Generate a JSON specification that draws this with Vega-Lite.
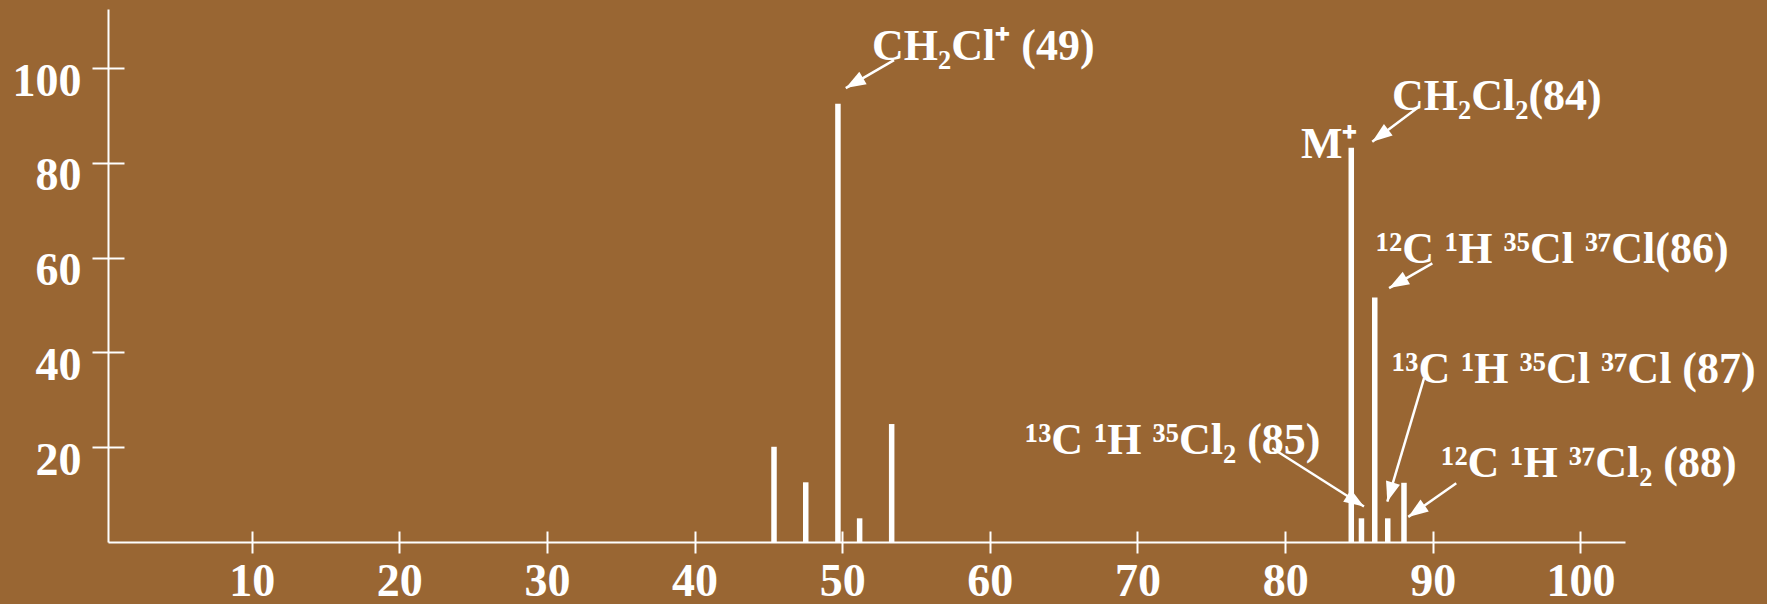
{
  "$schema": "https://vega.github.io/schema/vega-lite/v6.json",
  "width": 1517,
  "height": 533,
  "autosize": {"type": "none"},
  "padding": {"left": 108, "top": 9, "right": 142, "bottom": 62},
  "background": "#996633",
  "config": {
    "view": {"stroke": null},
    "axis": {
      "grid": false,
      "title": null,
      "domainColor": "white",
      "domainWidth": 2,
      "tickColor": "white",
      "tickWidth": 2,
      "labelColor": "white",
      "labelFont": "Liberation Serif",
      "labelFontWeight": "bold",
      "labelFontSize": 46,
      "labelFlush": false,
      "labelOverlap": false
    }
  },
  "datasets": {
    "peaks": [
      {"mz": 45.38, "intensity": 20.1},
      {"mz": 47.53, "intensity": 12.6},
      {"mz": 49.71, "intensity": 92.5},
      {"mz": 51.18, "intensity": 5.0},
      {"mz": 53.35, "intensity": 24.9},
      {"mz": 84.48, "intensity": 83.2},
      {"mz": 85.17, "intensity": 5.0},
      {"mz": 86.07, "intensity": 51.6},
      {"mz": 86.95, "intensity": 5.0},
      {"mz": 88.05, "intensity": 12.5}
    ],
    "arrows": [
      {"from_mz": 53.51, "from_int": 101.7, "to_mz": 50.24, "to_int": 95.8, "heading": 239.6},
      {"from_mz": 88.95, "from_int": 91.6, "to_mz": 85.9, "to_int": 84.5, "heading": 233.4},
      {"from_mz": 89.97, "from_int": 58.8, "to_mz": 87.04, "to_int": 53.6, "heading": 240},
      {"from_mz": 89.41, "from_int": 34.6, "to_mz": 86.92, "to_int": 8.5, "heading": 196.6},
      {"from_mz": 91.59, "from_int": 12.4, "to_mz": 88.34, "to_int": 5.3, "heading": 235.2},
      {"from_mz": 79.13, "from_int": 19.8, "to_mz": 85.34, "to_int": 7.5, "heading": 122.5}
    ],
    "labels": [
      {"mz": 52.02, "intensity": 101.7, "label": "CH₂Cl⁺ (49)"},
      {"mz": 87.24, "intensity": 91.2, "label": "CH₂Cl₂(84)"},
      {"mz": 81.07, "intensity": 81.1, "label": "M⁺"},
      {"mz": 86.15, "intensity": 58.9, "label": "¹²C ¹H ³⁵Cl ³⁷Cl(86)"},
      {"mz": 87.24, "intensity": 33.6, "label": "¹³C ¹H ³⁵Cl ³⁷Cl (87)"},
      {"mz": 90.57, "intensity": 13.7, "label": "¹²C ¹H ³⁷Cl₂ (88)"},
      {"mz": 62.38, "intensity": 18.5, "label": "¹³C ¹H ³⁵Cl₂ (85)"}
    ]
  },
  "resolve": {"axis": {"x": "independent", "y": "independent"}},
  "layer": [
    {
      "data": {"name": "peaks"},
      "mark": {"type": "rule", "color": "white", "strokeWidth": 5.5, "strokeCap": "butt"},
      "encoding": {
        "x": {
          "field": "mz", "type": "quantitative",
          "scale": {"domain": [0.27, 103.02], "nice": false, "zero": false},
          "axis": {"orient": "bottom", "values": [10, 20, 30, 40, 50, 60, 70, 80, 90, 100], "tickSize": 11, "labelPadding": 6}
        },
        "y": {
          "field": "intensity", "type": "quantitative",
          "scale": {"domain": [0, 112.5], "nice": false},
          "axis": {"orient": "left", "values": [20, 40, 60, 80, 100], "tickSize": 16, "labelPadding": 11, "labelBaseline": "alphabetic", "labelOffset": 27}
        },
        "y2": {"datum": 0}
      }
    },
    {
      "data": {"name": "arrows"},
      "mark": {"type": "rule", "color": "white", "strokeWidth": 2.5},
      "encoding": {
        "x": {
          "field": "from_mz", "type": "quantitative",
          "axis": {"orient": "bottom", "values": [10, 20, 30, 40, 50, 60, 70, 80, 90, 100], "tickSize": -11, "labels": false, "domain": false}
        },
        "y": {
          "field": "from_int", "type": "quantitative",
          "axis": {"orient": "left", "values": [20, 40, 60, 80, 100], "tickSize": -16, "labels": false, "domain": false}
        },
        "x2": {"field": "to_mz"},
        "y2": {"field": "to_int"}
      }
    },
    {
      "data": {"name": "arrows"},
      "mark": {"type": "point", "shape": "M0,0L0.8,2.2L-0.8,2.2Z", "filled": true, "color": "white", "opacity": 1, "size": 330},
      "encoding": {
        "x": {"field": "to_mz", "type": "quantitative", "axis": null},
        "y": {"field": "to_int", "type": "quantitative", "axis": null},
        "angle": {"field": "heading", "type": "quantitative", "scale": null}
      }
    },
    {
      "data": {"name": "labels"},
      "mark": {"type": "text", "color": "white", "font": "Liberation Serif", "fontWeight": "bold", "fontSize": 44, "align": "left", "baseline": "alphabetic"},
      "encoding": {
        "x": {"field": "mz", "type": "quantitative", "axis": null},
        "y": {"field": "intensity", "type": "quantitative", "axis": null},
        "text": {"field": "label"}
      }
    }
  ]
}
